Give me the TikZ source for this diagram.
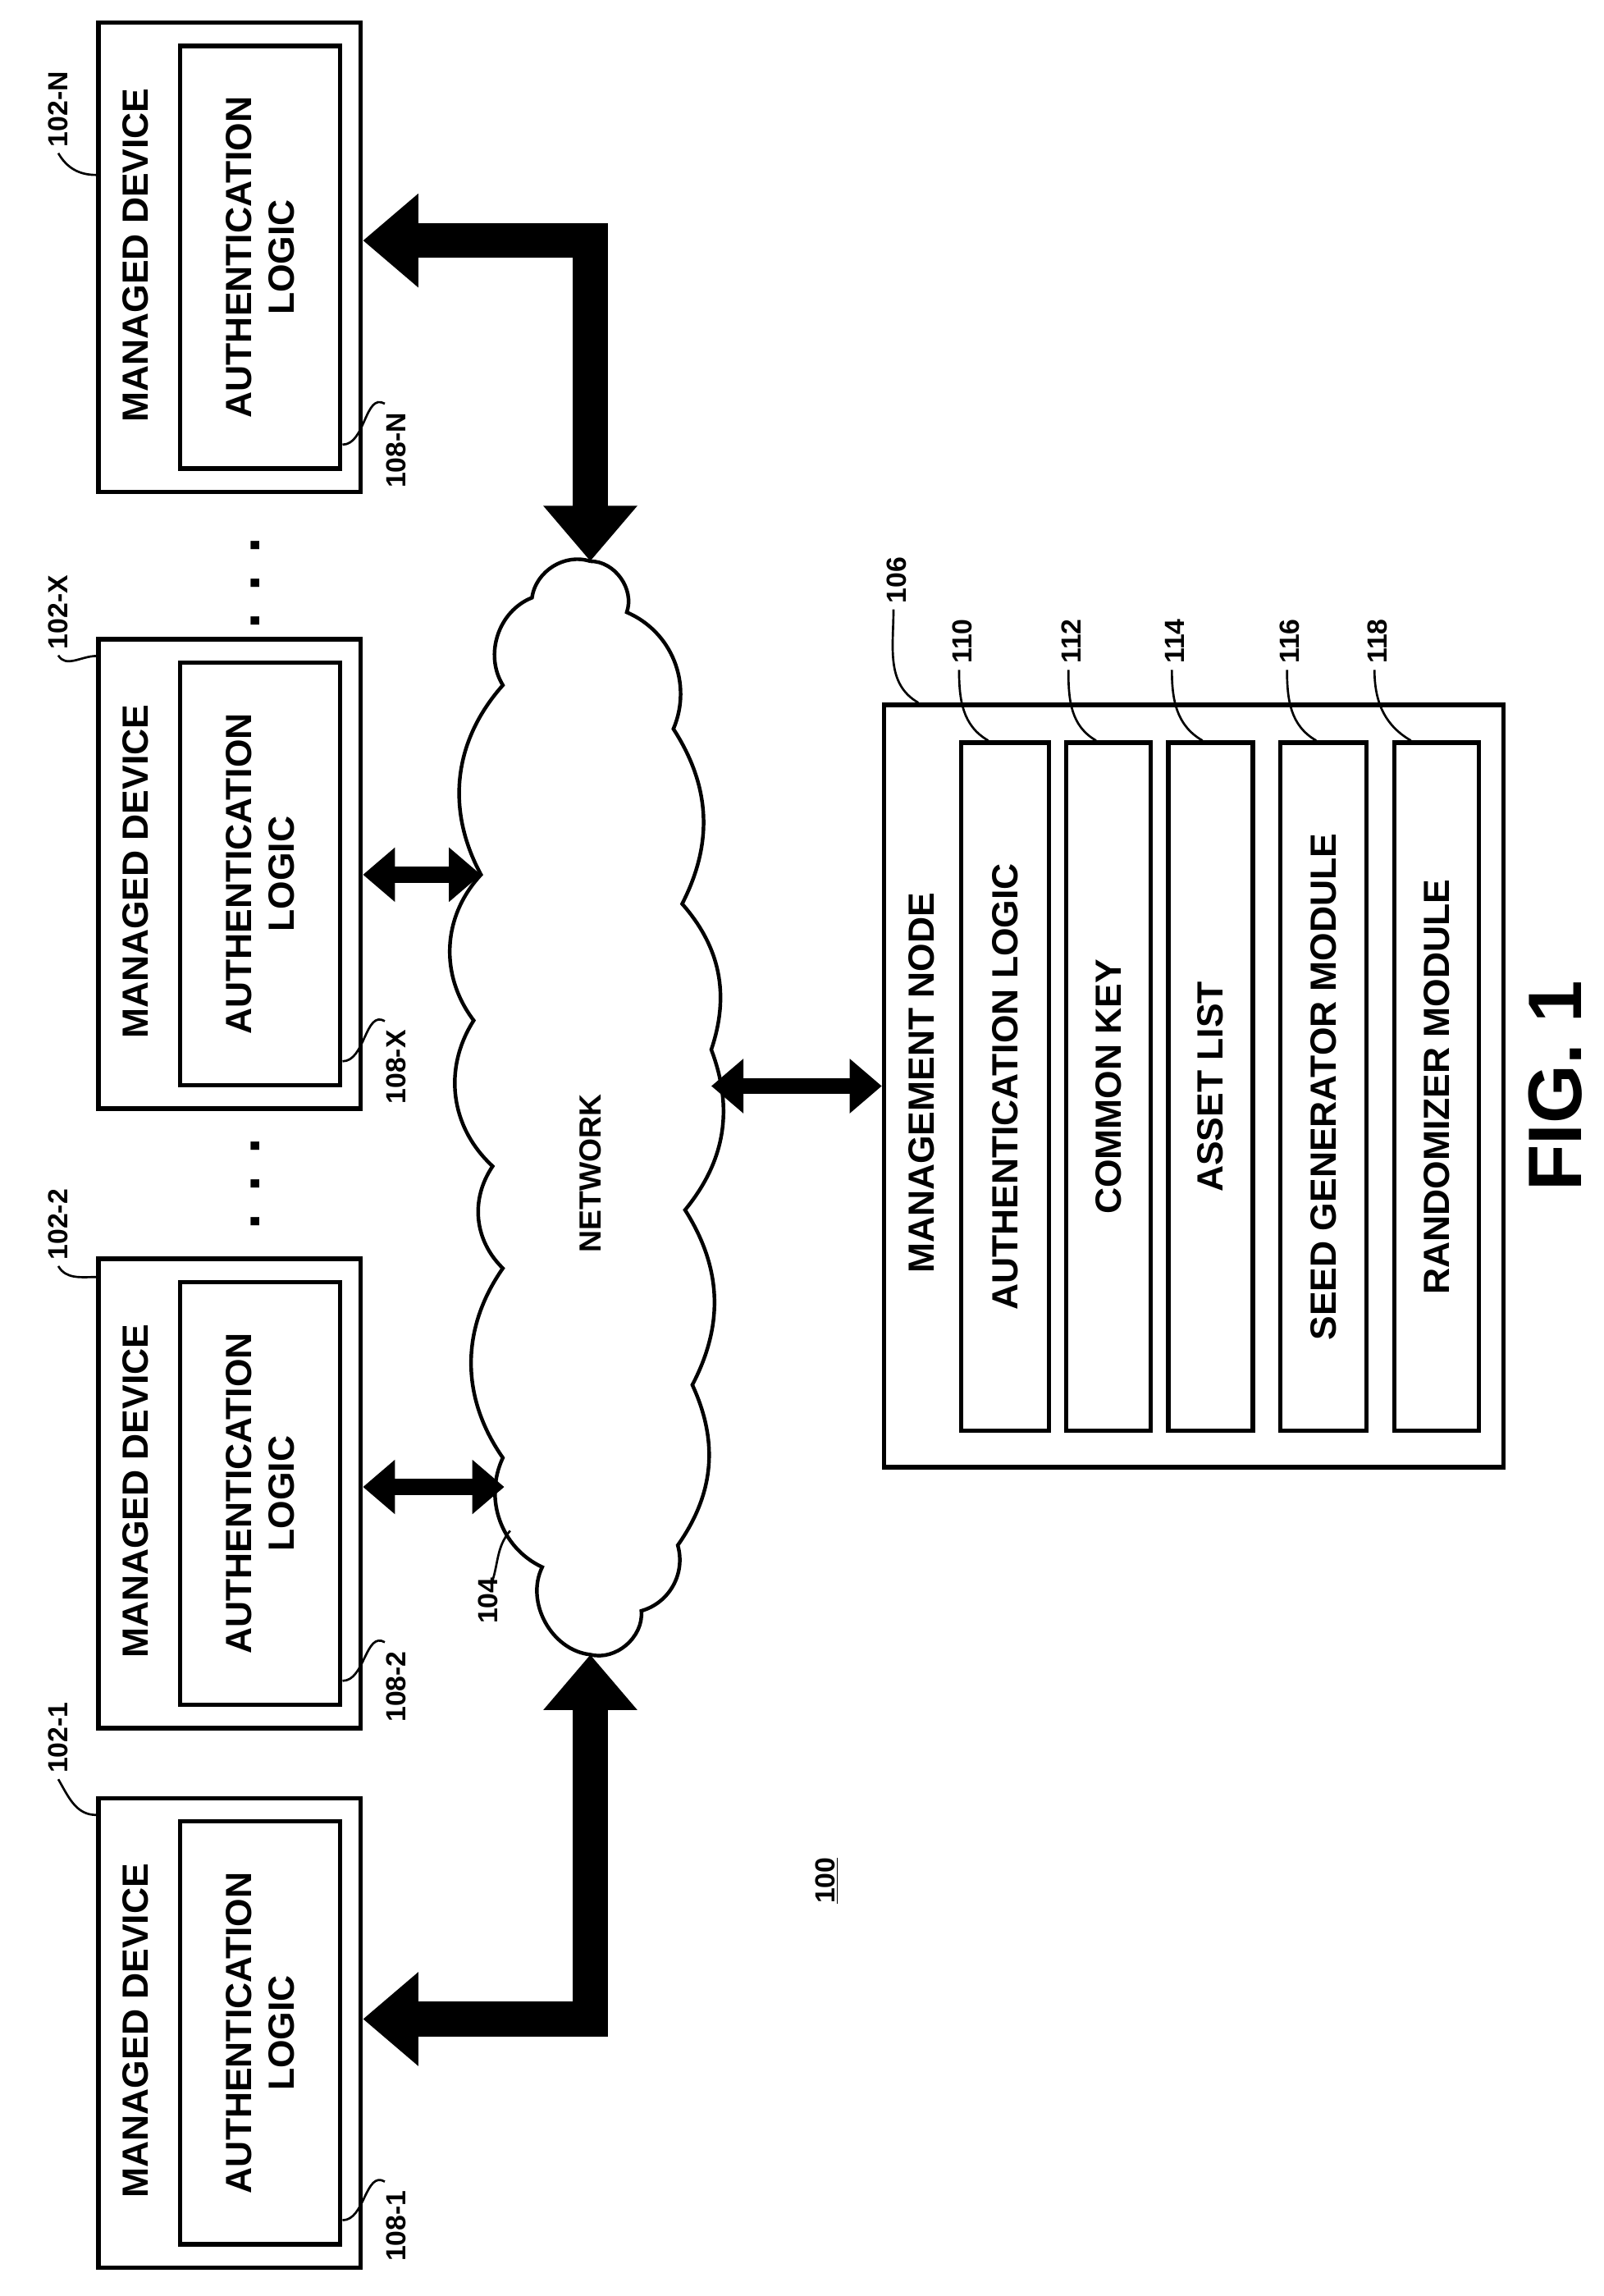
\documentclass[tikz,border=0pt]{standalone}
\usepackage{fontspec}
\setmainfont{Liberation Sans}
\usetikzlibrary{arrows.meta,calc}
\begin{document}
\begin{tikzpicture}[x=1pt,y=1pt,
  box/.style={draw,line width=3pt,inner sep=0pt,minimum width=#1},
  txt/.style={rotate=90,font=\fontsize{25}{29}\selectfont\bfseries,align=center,inner sep=0pt},
  lbl/.style={rotate=90,font=\fontsize{19}{22}\selectfont\bfseries,inner sep=0pt},
  lead/.style={line width=1.5pt},
  big/.style={line width=24pt,line join=miter,{Triangle[width=62pt,length=38pt]}-{Triangle[width=62pt,length=38pt]}},
  small/.style={line width=11pt,{Triangle[width=36pt,length=22pt]}-{Triangle[width=36pt,length=22pt]}}]
\useasboundingbox (0,0) rectangle (1100,-1575);
\newcommand\mydev[4]{%
  \node[box=180pt,minimum height=322pt,anchor=north west] (o#1) at (66,-#2) {};
  \node[box=110pt,minimum height=290pt,anchor=north west] (i#1) at (122,-#2-16) {};
  \node[txt] (m#1) at (93,-#2-161) {MANAGED DEVICE};
  \node[txt] (a#1) at (i#1.center) {AUTHENTICATION\\LOGIC};
  \node[lbl] (l#1) at (40,-#4) {102-#3};
  \node[lbl] (k#1) at (272,-#2-295) {108-#3};
  \draw[lead] (k#1.east) ++(-8,6) coordinate (k#1c) to[out=150,in=0] ($(i#1.south east)+(0,18)$);
}
\mydev{1}{1232}{1}{1192}
\mydev{2}{862}{2}{840}
\mydev{x}{437}{X}{420}
\mydev{n}{14}{N}{75}
\draw[lead] (l1.west) ++(0,-4) to[out=-60,in=180] (66,-1245);
\draw[lead] (l2.west) ++(0,-4) to[out=-60,in=180] (66,-876);
\draw[lead] (lx.west) ++(0,-4) to[out=-60,in=180] (66,-450);
\draw[lead] (ln.west) ++(0,-4) to[out=-60,in=180] (66,-120);
\node[lbl,font=\fontsize{40}{40}\selectfont\bfseries] (d1) at (175,-400) {. . .};
\node[lbl,font=\fontsize{40}{40}\selectfont\bfseries] (d2) at (175,-812) {. . .};
% cloud
\draw[line width=2.5pt,fill=white] (405,-385)
  to[bend right=50] (365,-410) to[bend right=50] (345,-470)
  to[bend right=35] (330,-600) to[bend right=40] (325,-700)
  to[bend right=40] (338,-800) to[bend right=40] (345,-870)
  to[bend right=35] (345,-1000) to[bend right=45] (372,-1075)
  to[bend right=55] (405,-1135) to[bend right=55] (440,-1105)
  to[bend right=45] (465,-1060) to[bend right=30] (475,-950)
  to[bend right=30] (470,-830) to[bend right=30] (488,-720)
  to[bend right=30] (468,-620) to[bend right=30] (462,-500)
  to[bend right=45] (430,-420) to[bend right=55] (405,-385);
\coordinate (cloud) at (405,-760);
\node[lbl,font=\fontsize{21}{24}\selectfont\bfseries] (net) at (405,-805) {NETWORK};
\node[lbl] (c104) at (335,-1098) {104};
\draw[lead] (c104.east) ++(2,-5) to[out=70,in=230] (350,-1050);
\coordinate (ctop) at (405,-385);
\coordinate (cbot) at (405,-1135);
% management node
\node[box=425pt,minimum height=523pt,anchor=north west] (mn) at (605,-482) {};
\node[txt] (mnt) at (632,-743) {MANAGEMENT NODE};
\foreach \n/\x/\w/\t in {110/658/60/AUTHENTICATION LOGIC,112/730/58/COMMON KEY,114/800/58/ASSET LIST,116/877/59/SEED GENERATOR MODULE,118/955/58/RANDOMIZER MODULE}{
  \node[box=\w pt,minimum height=472pt,anchor=north west] (b\n) at (\x,-508) {};
  \node[txt] (t\n) at (b\n.center) {\t};
}
\node[lbl] (l106) at (615,-398) {106};
\node[lbl] (l110) at (660,-440) {110};
\node[lbl] (l112) at (735,-440) {112};
\node[lbl] (l114) at (806,-440) {114};
\node[lbl] (l116) at (885,-440) {116};
\node[lbl] (l118) at (945,-440) {118};
\draw[lead] (l106.west) ++(-2,-4) to[out=-90,in=150] (630,-482);
\draw[lead] (l110.west) ++(-2,-4) to[out=-90,in=150] (678,-508);
\draw[lead] (l112.west) ++(-2,-4) to[out=-90,in=150] (752,-508);
\draw[lead] (l114.west) ++(-2,-4) to[out=-90,in=150] (825,-508);
\draw[lead] (l116.west) ++(-2,-4) to[out=-90,in=150] (903,-508);
\draw[lead] (l118.west) ++(-2,-4) to[out=-90,in=150] (968,-508);
% arrows
\draw[big] (o1.east |- 0,-1385) -- (405,-1385) -- (cbot);
\draw[big] (on.east |- 0,-165) -- (405,-165) -- (ctop);
\draw[small] (o2.east |- 0,-1020) -- (346,-1020);
\draw[small] (ox.east |- 0,-600) -- (330,-600);
\draw[small] (488,-745) -- (mn.west |- 0,-745);
\node[rotate=90,font=\fontsize{52}{52}\selectfont\bfseries,inner sep=0pt] (fig) at (1067,-745) {FIG. 1};
\node[font=\fontsize{19}{22}\selectfont\bfseries,rotate=90,inner sep=1pt] (n100) at (567,-1290) {\underline{100}};
\end{tikzpicture}
\end{document}
